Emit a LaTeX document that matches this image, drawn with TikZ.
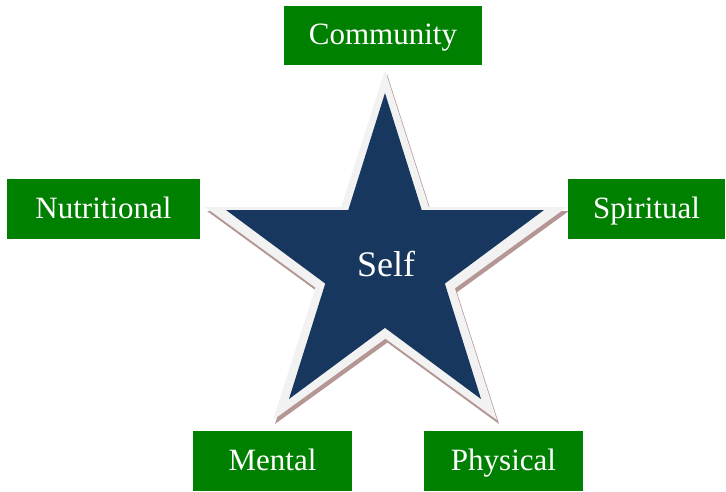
\documentclass[tikz,border=0pt]{standalone}
\usepackage{fontspec}
\setmainfont{Liberation Serif}
\usetikzlibrary{calc}
\definecolor{boxgreen}{RGB}{0,128,0}
\definecolor{stardark}{RGB}{23,55,94}
\definecolor{starrim}{RGB}{242,242,242}
\definecolor{starshadow}{RGB}{180,150,148}
\newcommand\pentafill[2]{\fill[#2] (#1T) -- (intersection of #1T--#1BR and #1L--#1R) -- (#1R)
  -- (intersection of #1R--#1BL and #1T--#1BR) -- (#1BR)
  -- (intersection of #1BR--#1L and #1BL--#1R) -- (#1BL)
  -- (intersection of #1BL--#1T and #1L--#1BR) -- (#1L)
  -- (intersection of #1L--#1R and #1T--#1BL) -- cycle;}
\begin{document}
\begin{tikzpicture}[x=1pt,y=-1pt,
  box/.style={fill=boxgreen, text=white, font=\fontsize{31}{31}\selectfont, inner sep=0pt,
    text height=25pt, text depth=6pt, anchor=center},
  selflabel/.style={text=white, font=\fontsize{36}{36}\selectfont, inner sep=0pt}]
\useasboundingbox (0,0) rectangle (726,492);
% rim star tips
\coordinate (gT) at (385,70);
\coordinate (gR) at (567,207);
\coordinate (gBR) at (497,420);
\coordinate (gBL) at (273,420);
\coordinate (gL) at (205,207);
% shadow star tips
\foreach \p in {T,R,BR,BL,L} {\coordinate (s\p) at ($(g\p)+(2,4)$);}
% dark star tips
\coordinate (dT) at (385,93);
\coordinate (dR) at (544,210);
\coordinate (dBR) at (481,399);
\coordinate (dBL) at (289,399);
\coordinate (dL) at (226,210);
\pentafill{s}{starshadow}
\pentafill{g}{starrim}
\pentafill{d}{stardark}
\node[selflabel] (self) at (386,264) {Self};
\node[box, minimum width=198pt, minimum height=59pt] (community) at (383,35.5) {Community};
\node[box, minimum width=193pt, minimum height=60pt] (nutritional) at (103.5,209) {Nutritional};
\node[box, minimum width=157pt, minimum height=60pt] (spiritual) at (646.5,209) {Spiritual};
\node[box, minimum width=159pt, minimum height=60pt] (mental) at (272.5,461) {Mental};
\node[box, minimum width=159pt, minimum height=60pt] (physical) at (503.5,461) {Physical};
\end{tikzpicture}
\end{document}
